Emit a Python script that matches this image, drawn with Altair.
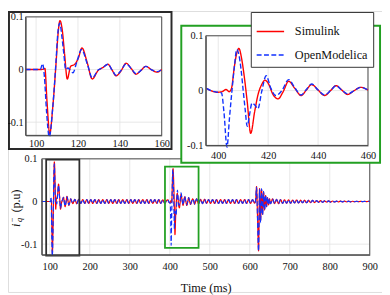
import altair as alt
import pandas as pd

FONT = "Liberation Serif"
W, H = 382, 287

# ---------------- data ----------------
pre_t = [80.0]
pre_v = [0.0]

sim_f1_t = [95, 102, 103.5, 104.2, 105.2, 106.5, 108, 109.5, 110.5, 111.4, 112.5, 113.6, 114.9, 116.5, 118.5,
            120.2, 121.9, 124.5, 126.8, 129.6, 132, 134.3, 136.3, 138.2, 140.5, 143, 145.4, 147.7, 150, 152.4,
            155, 157.8, 160]
sim_f1_v = [0, 0, 0.001, 0.002, -0.06, -0.122, -0.07, 0.01, 0.068, 0.093, 0.075, 0.03, -0.018, 0.006, 0.01,
            0.022, 0.041, 0.012, -0.018, -0.002, 0.004, 0.010, -0.001, -0.012, -0.003, 0.012, 0.002, -0.009, -0.002, 0.006,
            0.000, -0.005, 0.000]

om_f1_t = [95, 102, 103.1, 104, 105, 106.3, 108, 109.5, 110.4, 111.3, 112.4, 113.3, 114.1, 115.2, 116.2,
           117.6, 119.5, 121.7, 124.5, 126.8, 129.6, 132, 134.3, 136.3, 138.2, 140.5, 143, 145.4, 147.7, 150,
           152.4, 155, 157.8, 160]
om_f1_v = [0, 0, 0.011, -0.015, -0.08, -0.128, -0.07, 0.015, 0.07, 0.088, 0.06, 0.028, 0.0, 0.003, -0.001,
           -0.006, 0.015, 0.038, 0.01, -0.016, -0.001, 0.004, 0.010, -0.001, -0.011, -0.002, 0.011, 0.002, -0.008, -0.002,
           0.006, 0.000, -0.004, 0.000]

tail1_t = [162.5, 167.5, 172.5, 177.5, 182.5, 187.5, 192.5, 197.5, 202.5, 207.5,
           212.5, 217.5, 222.5, 227.5, 232.5, 237.5, 242.5, 247.5, 252.5, 257.5,
           262.5, 267.5, 272.5, 277.5, 282.5, 287.5, 292.5, 297.5, 302.5, 307.5,
           312.5, 317.5, 322.5, 327.5, 332.5, 337.5, 342.5, 347.5, 352.5, 357.5,
           362.5, 367.5, 372.5, 377.5, 382.5, 387.5, 392.5]
tail1_v = [0.005, -0.005, 0.005, -0.0045, 0.0045, -0.0045, 0.0045, -0.0045, 0.0045, -0.0045,
           0.0045, -0.0045, 0.0045, -0.0045, 0.0045, -0.0045, 0.0045, -0.0045, 0.0045, -0.0045,
           0.0045, -0.0045, 0.0045, -0.0045, 0.0045, -0.0045, 0.0045, -0.0045, 0.0045, -0.0045,
           0.0045, -0.0045, 0.0045, -0.0045, 0.0045, -0.0045, 0.0045, -0.0045, 0.0045, -0.0045,
           0.0045, -0.0045, 0.0045, -0.0045, 0.004, -0.004, 0.003]

sim_f2_t = [395.3, 397.6, 399.6, 401.5, 403.1, 404.4, 405.3, 406.5, 407.4, 408.3, 409.3, 410.3, 411.6, 413.0,
            414.6, 415.9, 417.4, 418.7, 420.4, 421.7, 424.0, 426.0, 428.2, 430.7, 433.2, 435.3, 437.4, 440.0,
            442.6, 445.0, 447.2, 449.5, 451.8, 454.5, 457.0, 460.0]
sim_f2_v = [0.004, -0.001, -0.003, -0.002, 0.002, -0.002, 0.004, 0.045, 0.068, 0.077, 0.06, 0.03, -0.02, -0.078,
            -0.038, -0.008, 0.011, 0.019, 0.01, -0.005, -0.015, -0.002, 0.017, 0.004, -0.009, 0.001, 0.011, 0.001,
            -0.009, 0.0, 0.009, 0.001, -0.007, 0.0, 0.006, 0.001]

om_f2_t = [395.3, 397.6, 399.6, 401.3, 402.3, 403.5, 404.5, 405.5, 406.5, 407.4, 408.3, 409.1, 410.0, 410.8,
           411.6, 412.5, 413.5, 414.6, 415.9, 417.4, 419.2, 421.1, 423.0, 425.5, 428.2, 430.7, 433.2, 435.3,
           437.4, 440.0, 442.6, 445.0, 447.2, 449.5, 451.8, 454.5, 457.0, 460.0]
om_f2_v = [0.004, -0.001, -0.003, -0.004, -0.04, -0.103, -0.05, 0.0, 0.045, 0.075, 0.065, 0.04, 0.0, -0.035,
           -0.065, -0.045, -0.023, -0.026, -0.033, -0.002, 0.027, 0.004, -0.009, 0.0, 0.02, 0.005, -0.008, 0.002,
           0.012, 0.001, -0.008, 0.0, 0.009, 0.001, -0.006, 0.0, 0.006, 0.001]

tail2_t = [462, 467, 472, 477, 482, 487, 492, 497, 502, 507,
           512, 517, 522, 527, 532, 537, 542, 547, 552, 557,
           562, 567, 572, 577, 582, 587, 592, 597, 602, 607, 612]
tail2_v = [-0.006, 0.006, -0.005, 0.005, -0.005, 0.005, -0.0045, 0.0045, -0.0045, 0.0045,
           -0.0045, 0.0045, -0.0045, 0.0045, -0.0045, 0.0045, -0.0045, 0.0045, -0.0045, 0.0045,
           -0.0045, 0.0045, -0.0045, 0.0045, -0.0045, 0.0045, -0.0045, 0.0045, -0.0045, 0.0045, -0.004]

f3_t = [614.5, 617, 619.5, 622, 624.5, 627, 629.5, 632, 634.5, 637, 639.5, 642, 644.5, 647, 649.5, 652]
sim_f3_v = [0.002, 0.035, -0.04, -0.116, 0.03, -0.045, 0.028, -0.03, 0.022, -0.02, 0.014, -0.012, 0.009, -0.008,
            0.006, -0.005]
om_f3_v = [0.002, 0.033, -0.045, -0.116, 0.028, -0.05, 0.03, -0.032, 0.024, -0.021, 0.015, -0.012, 0.01, -0.008,
           0.006, -0.005]

tail3_t = [657, 662, 667, 672, 677, 682, 687, 692, 697, 702,
           707, 712, 717, 722, 727, 732, 737, 742, 747, 752,
           757, 762, 767, 772, 777, 782, 787, 792, 797, 802,
           807, 812, 817, 822, 827, 832, 837, 842, 847, 852,
           857, 862, 867, 872, 877, 882, 887, 892, 897, 900]
tail3_v = [0.006, -0.005, 0.005, -0.005, 0.0045, -0.0045, 0.004, -0.004, 0.004, -0.004,
           0.0035, -0.0035, 0.0035, -0.0035, 0.003, -0.003, 0.003, -0.003, 0.0025, -0.0025,
           0.0025, -0.0025, 0.002, -0.002, 0.002, -0.002, 0.0015, -0.0015, 0.0015, -0.0015,
           0.0012, -0.0012, 0.001, -0.001, 0.001, -0.001, 0.0008, -0.0008, 0.0008, -0.0008,
           0.0006, -0.0006, 0.0005, -0.0005, 0.0004, -0.0004, 0.0003, -0.0003, 0.0002, 0.0]

SERIES = ["Simulink", "OpenModelica"]
COLORS = ["#ff0000", "#1030ff"]
DASHES = [[1, 0], [5, 2.5]]

main_xticks = [100, 200, 300, 400, 500, 600, 700, 800, 900]
ins1_xticks = [100, 120, 140, 160]
ins2_xticks = [400, 420, 440, 460]
yticks = [-0.1, 0, 0.1]

# zoom boxes drawn in the main plot (data coordinates)
box1 = {"x1": [91], "x2": [174], "y1": [-0.127], "y2": [0.098]}
box2 = {"x1": [388], "x2": [472], "y1": [-0.109], "y2": [0.082]}

# ---------------- tables ----------------
sim_t = pre_t + sim_f1_t + tail1_t + sim_f2_t + tail2_t + f3_t + tail3_t
sim_v = pre_v + sim_f1_v + tail1_v + sim_f2_v + tail2_v + sim_f3_v + tail3_v
om_t = pre_t + om_f1_t + tail1_t + om_f2_t + tail2_t + f3_t + tail3_t
om_v = pre_v + om_f1_v + tail1_v + om_f2_v + tail2_v + om_f3_v + tail3_v

sim = pd.DataFrame({"t": sim_t, "v": sim_v, "s": "Simulink"})
om = pd.DataFrame({"t": om_t, "v": om_v, "s": "OpenModelica"})
one = pd.DataFrame({"a": [0]})

AXC = "#4a4a4a"
GRID = "#e2e2e2"
LAB = "#111111"

leg = alt.Legend(orient="none", legendX=248, legendY=1, title=None, fillColor="white",
                 strokeColor="#333333", padding=5, rowPadding=2, symbolType="stroke",
                 symbolSize=784, symbolStrokeWidth=1.5, labelFont=FONT, labelFontSize=12.5,
                 labelOffset=10, labelColor=LAB)


def color_enc():
    return alt.Color("s:N", scale=alt.Scale(domain=SERIES, range=COLORS), legend=leg)


def dash_enc():
    return alt.StrokeDash("s:N", scale=alt.Scale(domain=SERIES, range=DASHES), legend=leg)


YLAB = "datum.value < 0 ? '-' + format(-datum.value, '.1~f') : format(datum.value, '.1~f')"


def panel(xdom, xr, ydom, yr, xticks, lw, xpad, ypad, extra=None, xtitle=None, filt=False):
    def xs():
        return alt.Scale(domain=xdom, range=xr, nice=False, zero=False)

    def ys():
        return alt.Scale(domain=ydom, range=yr, nice=False, zero=False)

    xkw = dict(orient="bottom", offset=yr[0] - H, values=xticks, ticks=False, grid=False,
               domainColor=AXC, domainWidth=1, labelFont=FONT, labelFontSize=10.5, labelColor=LAB,
               labelPadding=xpad, labelFlush=False, labelOverlap=False, format="d", zindex=1)
    if xtitle:
        xkw.update(title=xtitle, titleFont=FONT, titleFontSize=12.5, titleFontWeight="normal",
                   titleColor=LAB, titlePadding=10)
    else:
        xkw.update(title="")
    xaxis = alt.Axis(**xkw)
    yaxis = alt.Axis(orient="left", offset=-xr[0], values=yticks, ticks=False, grid=False,
                     domainColor=AXC, domainWidth=1, labelFont=FONT, labelFontSize=10.5, labelColor=LAB,
                     labelPadding=ypad, labelExpr=YLAB, title="", zindex=1)

    gx = alt.Chart(pd.DataFrame({"g": xticks})).mark_rule(color=GRID, strokeWidth=0.8).encode(
        x=alt.X("g:Q", scale=xs(), axis=None),
        y=alt.YDatum(ydom[0], scale=ys(), axis=None), y2=alt.Y2Datum(ydom[1]))
    gy = alt.Chart(pd.DataFrame({"g": yticks})).mark_rule(color=GRID, strokeWidth=0.8).encode(
        y=alt.Y("g:Q", scale=ys(), axis=None),
        x=alt.XDatum(xdom[0], scale=xs(), axis=None), x2=alt.X2Datum(xdom[1]))
    frame = alt.Chart(one).mark_rect(fillOpacity=0, stroke=AXC, strokeWidth=1).encode(
        x=alt.XDatum(xdom[0], scale=xs(), axis=None), x2=alt.X2Datum(xdom[1]),
        y=alt.YDatum(ydom[0], scale=ys(), axis=None), y2=alt.Y2Datum(ydom[1]))

    def line(df, axes):
        c = alt.Chart(df)
        if filt:
            c = c.transform_filter((alt.datum.t >= xdom[0]) & (alt.datum.t <= xdom[1]))
        return c.mark_line(clip=True, strokeWidth=lw, interpolate="monotone").encode(
            x=alt.X("t:Q", scale=xs(), axis=xaxis if axes else None),
            y=alt.Y("v:Q", scale=ys(), axis=yaxis if axes else None),
            color=color_enc(), strokeDash=dash_enc())

    layers = [gx, gy, frame, line(sim, True), line(om, False)]
    if extra:
        for d, col in extra:
            layers.append(alt.Chart(pd.DataFrame(d)).mark_rect(fillOpacity=0, stroke=col, strokeWidth=1.8).encode(
                x=alt.X("x1:Q", scale=xs(), axis=None), x2="x2:Q",
                y=alt.Y("y1:Q", scale=ys(), axis=None), y2="y2:Q"))
    return layers


main = panel([80, 900], [34.5, 369.5], [-0.125, 0.1], [249, 151], main_xticks, 1.2, 7, 5,
             extra=[(box1, "#2e2e2e"), (box2, "#22a022")], xtitle="Time (ms)")
ins1 = panel([95, 160], [18, 157], [-0.125, 0.1], [127, 6], ins1_xticks, 1.4, 3.5, 2.5, filt=True)
ins2 = panel([395, 460], [202, 367.7], [-0.1, 0.1], [137.3, 25.3], ins2_xticks, 1.4, 5, 3, filt=True)

frame1 = alt.Chart(one).mark_rect(fill="white", stroke="#2a2a2a", strokeWidth=2).encode(
    x=alt.value(1), x2=alt.value(167), y=alt.value(1), y2=alt.value(141))
frame2 = alt.Chart(one).mark_rect(fill="white", stroke="#22a022", strokeWidth=2).encode(
    x=alt.value(177), x2=alt.value(380), y=alt.value(15), y2=alt.value(155))


def txt(s, x, y, size, italic=False):
    kw = dict(text=s, angle=270, font=FONT, fontSize=size, align="center", baseline="middle", color=LAB)
    if italic:
        kw["fontStyle"] = "italic"
    return alt.Chart(one).mark_text(**kw).encode(x=alt.value(x), y=alt.value(y))


ylab = [txt("(p.u)", 8, 194, 12), txt("i", 8, 219, 12.5, True),
        txt("q", 11.5, 213.5, 8.5, True), txt("\u2212", 4.5, 213, 8.5)]

chart = alt.layer(*main, frame1, *ins1, frame2, *ins2, *ylab).resolve_scale(
    x="independent", y="independent"
).properties(
    width=W, height=H, padding=0, autosize=alt.AutoSizeParams(type="none")
).configure_view(strokeOpacity=0).configure_axis(
    labelFont=FONT, titleFont=FONT
).configure(font=FONT)

chart.save("out.html", embed_options={"renderer": "svg", "actions": False})
